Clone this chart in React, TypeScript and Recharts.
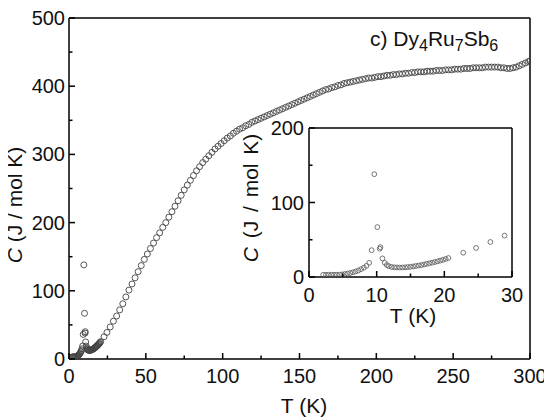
import React from 'react';
import { ScatterChart, Scatter, XAxis, YAxis, ReferenceLine, Label } from 'recharts';

// Low-temperature measurements (T in K, C in J / mol K)
const lowT = [2.1, 2.5, 2.9, 3.3, 3.7, 4.1, 4.5, 4.9, 5.3, 5.7, 6.1, 6.5, 6.9, 7.3, 7.7, 8.1, 8.5, 8.9, 9.26, 9.65, 10.1, 10.45, 10.55, 10.85, 11.2, 11.5, 11.8, 12.2, 12.6, 13.0, 13.4, 13.8, 14.2, 14.6, 15.0, 15.4, 15.8, 16.2, 16.6, 17.0, 17.4, 17.8, 18.2, 18.6, 19.0, 19.4, 19.8, 20.2, 20.6, 22.8, 24.7, 26.8, 28.9];
const lowC = [3, 3, 3, 3, 3, 3, 3.2, 3.5, 4, 4.6, 5.4, 6.3, 7.4, 8.8, 10.5, 12.5, 15, 19, 36, 138, 67, 38, 40, 25, 19, 16, 14.5, 13.5, 13, 12.8, 12.7, 12.8, 13, 13.3, 13.7, 14.2, 14.8, 15.4, 16, 16.8, 17.6, 18.4, 19.2, 20.1, 21, 22, 23, 24.2, 25.5, 32.6, 39, 47, 55.5];

// Higher-temperature measurements
const highT = [31, 33, 35, 37, 39, 41, 43, 45, 47, 49, 51, 53, 55, 57, 59, 61, 63, 65, 67, 69, 71, 73, 75, 77, 79, 81, 83, 85, 87, 89, 91, 93, 95, 97, 99, 101, 103, 105, 107, 109, 111, 113, 115, 117, 119, 121, 123, 125, 127, 129, 131, 133, 135, 137, 139, 141, 143, 145, 147, 149, 151, 153, 155, 157, 159, 161, 163, 165, 167, 169, 171, 173, 175, 177, 179, 181, 183, 185, 187, 189, 191, 193, 195, 197, 199, 201, 203, 205, 207, 209, 211, 213, 215, 217, 219, 221, 223, 225, 227, 229, 231, 233, 235, 237, 239, 241, 243, 245, 247, 249, 251, 253, 255, 257, 259, 261, 263, 265, 267, 269, 271, 273, 275, 277, 279, 281, 283, 285, 287, 289, 291, 293, 295, 297, 299, 300];
const highC = [63, 72, 81, 91, 101, 110, 119, 128, 137, 146, 154, 162, 170, 178, 185, 193, 200, 208, 216, 224, 232, 240, 248, 255, 262, 269, 276, 282, 288, 293, 298, 303, 308, 312, 316, 320, 324, 327, 331, 334, 337, 339, 342, 344, 347, 349, 351, 353, 355, 357, 359, 361, 363, 365, 367, 369, 371, 373, 375, 377, 379, 381, 383, 385, 387, 389, 391, 393, 395, 396, 398, 399, 401, 402, 404, 405, 406, 407, 408, 409, 410, 411, 412, 412, 413, 414, 414, 415, 416, 416, 417, 417, 418, 418, 419, 419, 420, 420, 421, 421, 421, 422, 422, 422, 423, 423, 423, 424, 424, 424, 425, 425, 425, 426, 426, 426, 427, 427, 427, 427, 428, 428, 428, 428, 428, 427, 427, 426, 426, 427, 428, 430, 432, 434, 436, 437];

// Tick values (labels shown on the multiples of the label step)
const mainXTicks = [0, 25, 50, 75, 100, 125, 150, 175, 200, 225, 250, 275, 300];
const mainYTicks = [0, 50, 100, 150, 200, 250, 300, 350, 400, 450, 500];
const insetXTicks = [0, 5, 10, 15, 20, 25, 30];
const insetYTicks = [0, 50, 100, 150, 200];

const allData = [
  ...lowT.map((t, i) => ({ T: t, C: lowC[i] })),
  ...highT.map((t, i) => ({ T: t, C: highC[i] })),
];
const insetData = allData.filter((d) => d.T <= 30);

const FONT = '"Liberation Sans", Arial, Helvetica, sans-serif';
const TICK_FS = 20;
const TITLE_FS = 21;

const makeYTick = (step: number, gap: number) => (props: any) => {
  const { x, y, payload } = props;
  const v = payload.value;
  const major = v % step === 0;
  return (
    <g>
      <line x1={x} x2={x + (major ? 6 : 3.5)} y1={y} y2={y} stroke="#000" strokeWidth={1.5} />
      {major && (
        <text x={x - gap} y={y} dy={7} textAnchor="end" fontSize={TICK_FS} fontFamily={FONT} fill="#111">
          {v}
        </text>
      )}
    </g>
  );
};

const makeXTick = (step: number, off: number) => (props: any) => {
  const { x, y, payload } = props;
  const v = payload.value;
  const major = v % step === 0;
  return (
    <g>
      <line x1={x} x2={x} y1={y} y2={y - (major ? 6 : 3.5)} stroke="#000" strokeWidth={1.5} />
      {major && (
        <text x={x} y={y + off} textAnchor="middle" fontSize={TICK_FS} fontFamily={FONT} fill="#111">
          {v}
        </text>
      )}
    </g>
  );
};

const mainDot = (props: any) => (
  <circle cx={props.cx} cy={props.cy} r={3} fill="none" stroke="#444" strokeWidth={0.9} />
);
const insetDot = (props: any) => (
  <circle cx={props.cx} cy={props.cy} r={2.4} fill="none" stroke="#555" strokeWidth={0.8} />
);

const yTitle = (cx: number, cy: number, ws: number) => () => (
  <text
    x={cx}
    y={cy}
    transform={`rotate(-90 ${cx} ${cy})`}
    textAnchor="middle"
    fontSize={TITLE_FS}
    fontFamily={FONT}
    fill="#111"
    style={{ wordSpacing: ws }}
  >
    <tspan style={{ fontStyle: 'italic' }}>C</tspan> (J / mol K)
  </text>
);

const xTitle = (cx: number, cy: number) => () => (
  <text x={cx} y={cy} textAnchor="middle" fontSize={TITLE_FS} fontFamily={FONT} fill="#111">
    T (K)
  </text>
);

export default function App() {
  return (
    <div style={{ position: 'relative', width: 552, height: 420, margin: '-8px 0 0 -8px' }}>
      <ScatterChart width={552} height={420} margin={{ top: 18, right: 22, bottom: 0, left: 0 }}>
        <XAxis
          type="number"
          dataKey="T"
          domain={[0, 300]}
          ticks={mainXTicks}
          interval={0}
          height={61}
          tickSize={0}
          tickMargin={0}
          tickLine={false}
          tick={makeXTick(50, 24)}
          axisLine={{ stroke: '#000', strokeWidth: 1.5 }}
          allowDataOverflow
        >
          <Label content={xTitle(304, 413)} />
        </XAxis>
        <YAxis
          type="number"
          dataKey="C"
          domain={[0, 500]}
          ticks={mainYTicks}
          interval={0}
          width={69}
          tickSize={0}
          tickMargin={0}
          tickLine={false}
          tick={makeYTick(100, 4)}
          axisLine={{ stroke: '#000', strokeWidth: 1.5 }}
          allowDataOverflow
        >
          <Label content={yTitle(22, 205, 0)} />
        </YAxis>
        <ReferenceLine y={500} stroke="#000" strokeWidth={1.5} />
        <ReferenceLine x={300} stroke="#000" strokeWidth={1.5} />
        <Scatter data={allData} shape={mainDot} isAnimationActive={false} />
      </ScatterChart>

      <svg width={200} height={40} style={{ position: 'absolute', left: 363, top: 16 }}>
        <text x={7} y={30} fontSize={TITLE_FS} fontFamily={FONT} fill="#111">
          c) Dy<tspan dy={5} fontSize={16}>4</tspan>
          <tspan dy={-5}>Ru</tspan>
          <tspan dy={5} fontSize={16}>7</tspan>
          <tspan dy={-5}>Sb</tspan>
          <tspan dy={5} fontSize={16}>6</tspan>
        </text>
      </svg>

      <div style={{ position: 'absolute', left: 230, top: 118, width: 300, height: 215 }}>
        <ScatterChart width={300} height={215} margin={{ top: 10, right: 18, bottom: 0, left: 0 }}>
          <XAxis
            type="number"
            dataKey="T"
            domain={[0, 30]}
            ticks={insetXTicks}
            interval={0}
            height={56}
            tickSize={0}
            tickMargin={0}
            tickLine={false}
            tick={makeXTick(10, 25)}
            axisLine={{ stroke: '#000', strokeWidth: 1.5 }}
            allowDataOverflow
          >
            <Label content={xTitle(183, 205)} />
          </XAxis>
          <YAxis
            type="number"
            dataKey="C"
            domain={[0, 200]}
            ticks={insetYTicks}
            interval={0}
            width={79}
            tickSize={0}
            tickMargin={0}
            tickLine={false}
            tick={makeYTick(100, 5)}
            axisLine={{ stroke: '#000', strokeWidth: 1.5 }}
            allowDataOverflow
          >
            <Label content={yTitle(28, 80, 3)} />
          </YAxis>
          <ReferenceLine y={200} stroke="#000" strokeWidth={1.5} />
          <ReferenceLine x={30} stroke="#000" strokeWidth={1.5} />
          <Scatter data={insetData} shape={insetDot} isAnimationActive={false} />
        </ScatterChart>
      </div>
    </div>
  );
}
